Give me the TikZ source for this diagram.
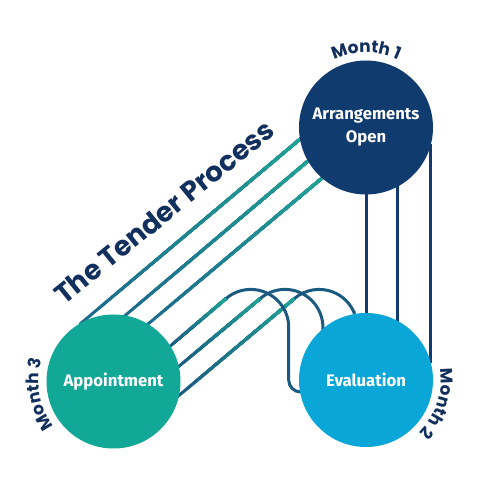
\documentclass[tikz,border=0pt]{standalone}
\usepackage{fontspec}
\newfontfamily\titlefont{Poppins}
\newfontfamily\labelfont{Fira Sans}
\usetikzlibrary{calc,decorations.text}
\pgfdeclarelayer{lines}
\pgfsetlayers{lines,main}
\definecolor{navy}{HTML}{0F3B6E}
\definecolor{titlenavy}{HTML}{12305E}
\definecolor{appteal}{HTML}{12A898}
\definecolor{evalblue}{HTML}{0AA6D8}
\definecolor{linegreen}{HTML}{1FA196}
\definecolor{lineblue}{HTML}{1D6B8C}
\definecolor{loopblue}{HTML}{1B5A80}
\definecolor{vnavy}{HTML}{133A6C}
\newcommand\monthfmt{\titlefont\bfseries\fontsize{17}{17}\selectfont\color{titlenavy}}
% gradient straight connector: #1 start, #2 end, #3 start colour, #4 end colour
\newcommand\gradconn[4]{%
  \foreach \i in {0,...,11}{%
    \pgfmathtruncatemacro\pct{100-\i*100/11}%
    \draw[conn, color=#4!\pct!#3] ($(#1)!\i/12!(#2)$) -- (#2);
  }}
\begin{document}
\begin{tikzpicture}[x=1pt,y=1pt,
  stage/.style={circle, minimum size=134pt, inner sep=0pt, outer sep=0pt,
    text=white, align=center,
    font=\labelfont\bfseries\fontsize{16.7}{23}\selectfont},
  conn/.style={line width=3pt},
  loopconn/.style={conn, color=loopblue},
  vconn/.style={conn, color=vnavy},
  title/.style={text=titlenavy, font=\titlefont\bfseries\fontsize{27.5}{27.5}\selectfont},
  monthlabel/.style={decorate, decoration={text along path, text align=center, text={#1}}}
]
\useasboundingbox (0,0) rectangle (480,480);

\node[stage, fill=navy] (arr) at (366,352.5) {Arrangements\\Open};
\node[stage, fill=appteal] (app) at (113.5,98.5) {Appointment};
\node[stage, fill=evalblue] (eval) at (366,100) {Evaluation};

\begin{pgfonlayer}{lines}
\fill[white] (0,0) rectangle (480,480);
% Appointment -> Arrangements
\coordinate (a1) at ($(app.118)!-3pt!(arr.190)$);
\coordinate (b1) at ($(arr.190)!-3pt!(app.118)$);
\coordinate (a2) at ($(app.80)!-3pt!(arr.210)$);
\coordinate (b2) at ($(arr.210)!-3pt!(app.80)$);
\coordinate (a3) at ($(app.59)!-3pt!(arr.229)$);
\coordinate (b3) at ($(arr.229)!-3pt!(app.59)$);
\gradconn{a1}{b1}{linegreen}{lineblue}
\gradconn{a2}{b2}{linegreen}{lineblue}
\gradconn{a3}{b3}{linegreen}{lineblue}
% Appointment -> Evaluation (looped)
\coordinate (t1) at (226.3,181.7);
\coordinate (t2) at (260.5,181.7);
\coordinate (t3) at (294.7,181.7);
\coordinate (c1) at ($(app.32)!-3pt!(t1)$);
\coordinate (c2) at ($(app.13)!-3pt!(t2)$);
\coordinate (c3) at ($(app.-12)!-3pt!(t3)$);
\gradconn{c1}{t1}{linegreen}{loopblue}
\gradconn{c2}{t2}{linegreen}{loopblue}
\gradconn{c3}{t3}{linegreen}{loopblue}
\draw[loopconn] (t1) arc[start angle=130, end angle=0, radius=38]
  -- (288.7,100) arc[start angle=180, end angle=270, radius=12] -- ++(3,0);
\draw[loopconn] (t2) arc[start angle=130, end angle=0, radius=38] -- ($(eval.130)+(0,-3)$);
\draw[loopconn] (t3) arc[start angle=130, end angle=21, radius=38] -- ($(eval.100)!-3pt!(eval.center)$);
% Arrangements -> Evaluation
\draw[vconn] ($(arr.270)+(0,3)$) -- ($(eval.90)+(0,-3)$);
\draw[vconn] ($(arr.-62)+(0,3)$) -- ($(eval.62)+(0,-3)$);
\draw[vconn] ($(arr.-17)+(0,3)$) -- ($(eval.17)+(0,-3)$);
\end{pgfonlayer}

\node[title, rotate=39] (ttl) at (164,268) {The Tender Process};

\path[monthlabel={|\monthfmt|Month 1}] ($(arr)+(135:75)$) arc[start angle=135, end angle=45, radius=75];
\path[monthlabel={|\monthfmt|Month 2}] ($(eval)+(20:75)$) arc[start angle=20, end angle=-56, radius=75];
\path[monthlabel={|\monthfmt|Month 3}] ($(app)+(228:75)$) arc[start angle=228, end angle=152, radius=75];
\end{tikzpicture}
\end{document}
